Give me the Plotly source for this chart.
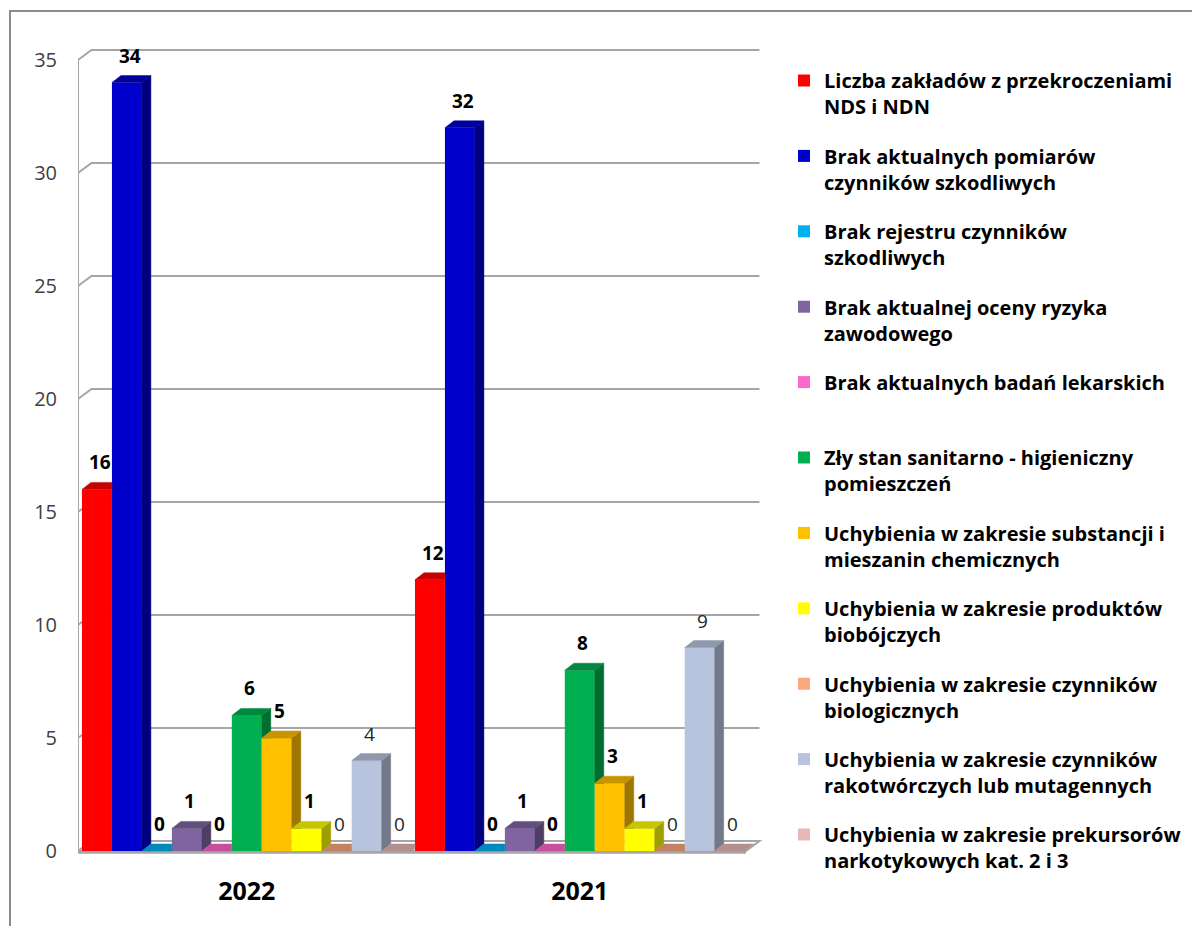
import plotly.graph_objects as go

# ── Data ──────────────────────────────────────────────────────────────────────
categories = ["2022", "2021"]

series_names = [
    "Liczba zakładów z przekroczeniami<br>NDS i NDN",
    "Brak aktualnych pomiarów<br>czynników szkodliwych",
    "Brak rejestru czynników<br>szkodliwych",
    "Brak aktualnej oceny ryzyka<br>zawodowego",
    "Brak aktualnych badań lekarskich<br> ",
    "Zły stan sanitarno - higieniczny<br>pomieszczeń",
    "Uchybienia w zakresie substancji i<br>mieszanin chemicznych",
    "Uchybienia w zakresie produktów<br>biobójczych",
    "Uchybienia w zakresie czynników<br>biologicznych",
    "Uchybienia w zakresie czynników<br>rakotwórczych lub mutagennych",
    "Uchybienia w zakresie prekursorów<br>narkotykowych kat. 2 i 3",
]

values_2022 = [16, 34, 0, 1, 0, 6, 5, 1, 0, 4, 0]
values_2021 = [12, 32, 0, 1, 0, 8, 3, 1, 0, 9, 0]

y_ticks = [0, 5, 10, 15, 20, 25, 30, 35]

# ── Styling ───────────────────────────────────────────────────────────────────
COLORS = [
    (255, 0, 0), (0, 0, 204), (0, 176, 240), (128, 100, 162), (255, 102, 204),
    (0, 176, 80), (255, 192, 0), (255, 255, 0), (249, 168, 128),
    (184, 196, 222), (230, 185, 184),
]
BOLD_LABEL = [True] * 8 + [False] * 3

FONT = "Open Sans"
GRID = "#A6A6A6"

# page pixel targets; the page body adds an 8px margin around the figure
OFF = 8
W, H = 1200 - OFF, 926 - OFF
PLOT_L, PLOT_R, PLOT_T, PLOT_B = 78, 770, 40, 858
PX_PER_X = 333.0           # pixels per category
PX_PER_Y = 22.6            # pixels per value unit
X0_PX, Y0_PX = 246.8, 851  # page pixel of category 0 centre, value 0

x_range = [(PLOT_L - X0_PX) / PX_PER_X, (PLOT_R - X0_PX) / PX_PER_X]
y_range = [(Y0_PX - PLOT_B) / PX_PER_Y, (Y0_PX - PLOT_T) / PX_PER_Y]

BAR_W = 0.09
N = len(series_names)
DX, DY = 9 / PX_PER_X, 7 / PX_PER_Y        # bar depth
WDX, WDY = 13.5 / PX_PER_X, 10 / PX_PER_Y  # wall depth


def shade(rgb, f):
    return "rgb(%d,%d,%d)" % tuple(int(c * f) for c in rgb)


def clip_half(poly, axis, c, keep_ge):
    out = []
    n = len(poly)
    for i in range(n):
        p, q = poly[i], poly[(i + 1) % n]
        pin = p[axis] >= c if keep_ge else p[axis] <= c
        qin = q[axis] >= c if keep_ge else q[axis] <= c
        if pin:
            out.append(p)
        if pin != qin:
            t = (c - p[axis]) / (q[axis] - p[axis])
            out.append((p[0] + t * (q[0] - p[0]), p[1] + t * (q[1] - p[1])))
    return out


def area(poly):
    s = 0
    for i in range(len(poly)):
        x1, y1 = poly[i]
        x2, y2 = poly[(i + 1) % len(poly)]
        s += x1 * y2 - x2 * y1
    return abs(s) / 2


def visible(poly, nxt):
    """Part of poly not hidden by the front face of the next bar."""
    if nxt is None:
        return [poly]
    nx0, nv = nxt
    parts = [clip_half(poly, 0, nx0, False),
             clip_half(clip_half(poly, 0, nx0, True), 1, nv, True)]
    return [p for p in parts if len(p) >= 3 and area(p) > 1e-9]


# bar positions in drawing order (group by group, series by series)
bars = []
for g, vals in enumerate([values_2022, values_2021]):
    for s, v in enumerate(vals):
        x0 = g - N * BAR_W / 2 + s * BAR_W
        bars.append(dict(g=g, s=s, v=v, x0=x0, x1=x0 + BAR_W))

sides = {s: ([], []) for s in range(N)}
tops = {s: ([], []) for s in range(N)}
for i, b in enumerate(bars):
    nxt = (bars[i + 1]["x0"], bars[i + 1]["v"]) if i + 1 < len(bars) else None
    x0, x1, v = b["x0"], b["x1"], b["v"]
    top = [(x0, v), (x1, v), (x1 + DX, v + DY), (x0 + DX, v + DY)]
    side = [(x1, 0), (x1 + DX, DY), (x1 + DX, v + DY), (x1, v)]
    for poly, store in ((side, sides), (top, tops)):
        if area(poly) < 1e-9:
            continue
        for part in visible(poly, nxt):
            xs, ys = store[b["s"]]
            xs += [p[0] for p in part] + [part[0][0], None]
            ys += [p[1] for p in part] + [part[0][1], None]

fig = go.Figure()

# front faces (also legend entries)
for s in range(N):
    fig.add_trace(go.Bar(
        x=[g + (s - (N - 1) / 2) * BAR_W for g in range(len(categories))],
        y=[values_2022[s], values_2021[s]],
        width=BAR_W,
        marker=dict(color=shade(COLORS[s], 1.0), line=dict(width=0)),
        name=series_names[s],
        legendgroup="s%d" % s,
        hoverinfo="skip",
    ))

# side and top faces
for s in range(N):
    for store, f in ((sides, 0.62), (tops, 0.78)):
        xs, ys = store[s]
        if not xs:
            continue
        c = shade(COLORS[s], f)
        fig.add_trace(go.Scatter(
            x=xs, y=ys, mode="lines", fill="toself", fillcolor=c,
            line=dict(color=c, width=0.5), showlegend=False, hoverinfo="skip",
        ))

# ── Walls, floor, grid ────────────────────────────────────────────────────────
xL = x_range[0]
xR = 1 + N * BAR_W / 2 + 0.004
shapes = []
shapes.append(dict(type="path", layer="below",
                   path="M %f,0 L %f,0 L %f,%f L %f,%f Z" % (xL, xR, xR + WDX, WDY, xL + WDX, WDY),
                   fillcolor="white", line=dict(color=GRID, width=2)))
shapes.append(dict(type="line", layer="below", x0=xL, x1=xR, y0=-0.06, y1=-0.06,
                   line=dict(color=GRID, width=3)))
shapes.append(dict(type="line", layer="below", x0=xL, x1=xL, y0=0, y1=y_ticks[-1],
                   line=dict(color=GRID, width=2)))
for t in y_ticks[1:]:
    shapes.append(dict(type="path", layer="below",
                       path="M %f,%f L %f,%f L %f,%f" % (xL, t, xL + WDX, t + WDY, xR + WDX, t + WDY),
                       line=dict(color=GRID, width=2)))


# page pixel -> paper coordinates
def px_x(p):
    return (p - PLOT_L) / (PLOT_R - PLOT_L)


def px_y(p):
    return (PLOT_B - p) / (PLOT_B - PLOT_T)


# outer chart border
shapes.append(dict(type="rect", xref="paper", yref="paper", layer="below",
                   x0=px_x(10), x1=px_x(1300), y0=px_y(11), y1=px_y(1000),
                   line=dict(color="#8C8C8C", width=2), fillcolor="rgba(0,0,0,0)"))

# ── Data labels ───────────────────────────────────────────────────────────────
annotations = []
for b in bars:
    bold = BOLD_LABEL[b["s"]]
    txt = str(b["v"])
    annotations.append(dict(
        x=(b["x0"] + b["x1"]) / 2 + DX * 0.3, y=b["v"], xref="x", yref="y",
        text="<b>%s</b>" % txt if bold else txt,
        showarrow=False, yanchor="bottom", yshift=12,
        font=dict(family=FONT, size=19, color="#000000" if bold else "#262626"),
    ))

fig.update_layout(
    width=W, height=H,
    margin=dict(l=PLOT_L - OFF, r=W - (PLOT_R - OFF), t=PLOT_T - OFF,
                b=H - (PLOT_B - OFF), autoexpand=False),
    paper_bgcolor="white", plot_bgcolor="rgba(0,0,0,0)",
    barmode="overlay",
    font=dict(family=FONT, color="#000000"),
    xaxis=dict(range=x_range, tickvals=list(range(len(categories))),
               ticktext=["<b>%s</b>" % c for c in categories],
               tickfont=dict(family=FONT, size=25, color="#000000"),
               showgrid=False, zeroline=False, showline=False, ticks="",
               ticklabelstandoff=16, fixedrange=True),
    yaxis=dict(range=y_range, tickvals=y_ticks,
               tickfont=dict(family=FONT, size=20, color="#404040"),
               showgrid=False, zeroline=False, showline=False, ticks="",
               ticklabelstandoff=20, fixedrange=True),
    legend=dict(x=px_x(784), y=px_y(61), xanchor="left", yanchor="top",
                traceorder="grouped", tracegroupgap=20.4, valign="top",
                maxheight=880,
                font=dict(family=FONT, size=20, color="#000000", weight="bold"),
                bgcolor="rgba(0,0,0,0)"),
    shapes=shapes,
    annotations=annotations,
    showlegend=True,
)

fig.write_html("out.html")
